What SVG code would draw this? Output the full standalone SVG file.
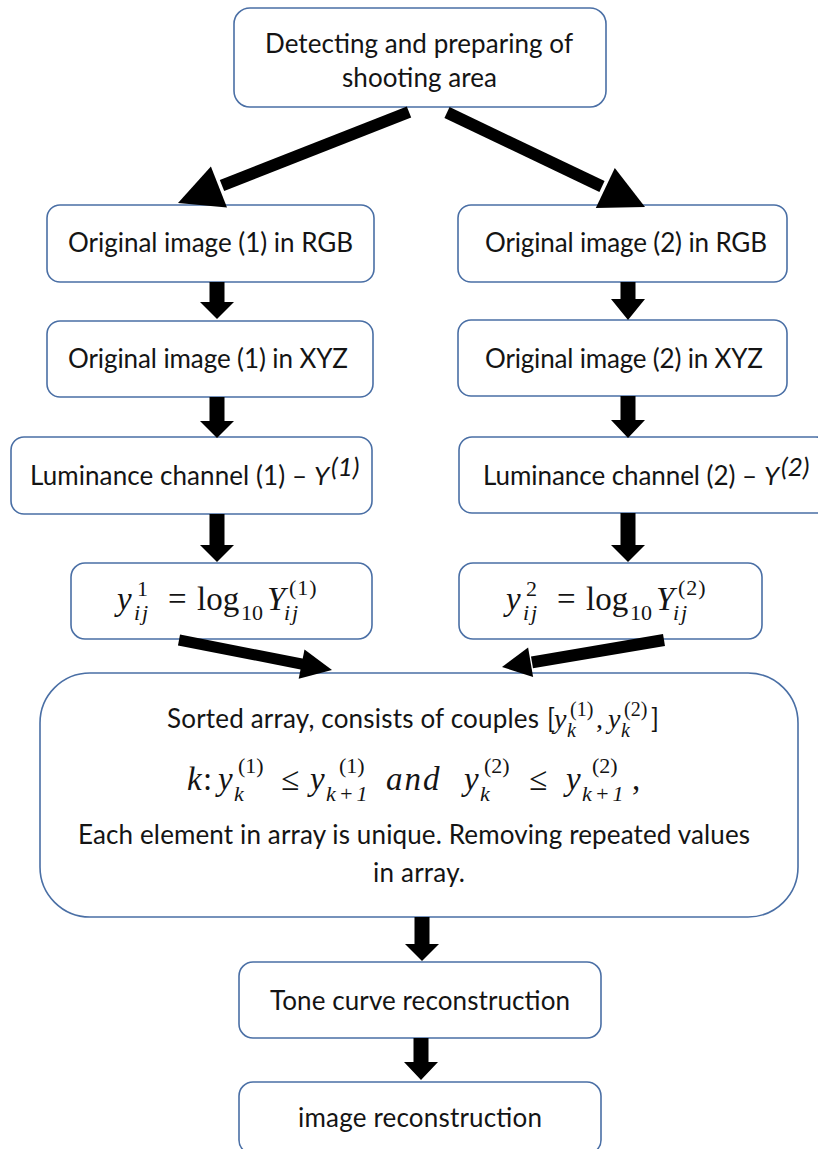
<svg xmlns="http://www.w3.org/2000/svg" width="818" height="1149" viewBox="0 0 818 1149">
<style>
.box{fill:#fff;stroke:#4a6fa5;stroke-width:1.6}
.t{font-family:Lato,"Liberation Sans",sans-serif;font-size:26px;fill:#141414}
.m{font-family:"Liberation Serif",serif;font-size:33px;fill:#141414}
.mi{font-style:italic}
.s{font-size:22px}
.s2{font-size:20px}
.m2{font-size:28px}
.ar{fill:#000}
.sh{stroke:#000;fill:none}
</style>
<rect width="818" height="1149" fill="#fff"/>
<g id="n-top">
<rect class="box" x="234" y="8" width="372" height="99" rx="16"/>
<text class="t" x="265" y="53" textLength="308">Detecting and preparing of</text>
<text class="t" x="342" y="87" textLength="155">shooting area</text>
</g>
<g id="n-rgb1">
<rect class="box" x="47" y="205" width="327" height="77" rx="13"/>
<text class="t" x="68" y="252" textLength="285">Original image (1) in RGB</text>
</g>
<g id="n-rgb2">
<rect class="box" x="458" y="205" width="329" height="77" rx="13"/>
<text class="t" x="485" y="252" textLength="282">Original image (2) in RGB</text>
</g>
<g id="n-xyz1">
<rect class="box" x="47" y="321" width="326" height="76" rx="13"/>
<text class="t" x="68" y="368" textLength="280">Original image (1) in XYZ</text>
</g>
<g id="n-xyz2">
<rect class="box" x="458" y="320" width="329" height="76" rx="13"/>
<text class="t" x="485" y="368" textLength="278">Original image (2) in XYZ</text>
</g>
<g id="n-lum1">
<rect class="box" x="11" y="437" width="361" height="77" rx="13"/>
<text class="t" x="30" y="485" textLength="277">Luminance channel (1) –</text>
<text class="t" x="314" y="485" font-style="italic" font-size="21">Y</text>
<text class="t" x="331" y="476" font-style="italic" font-size="14">(1)</text>
</g>
<g id="n-lum2">
<rect class="box" x="459" y="437" width="370" height="76" rx="13"/>
<text class="t" x="483" y="485" textLength="274">Luminance channel (2) –</text>
<text class="t" x="764" y="485" font-style="italic" font-size="21">Y</text>
<text class="t" x="781" y="476" font-style="italic" font-size="14">(2)</text>
</g>
<g id="n-log1">
<rect class="box" x="71" y="563" width="301" height="76" rx="14"/>
<text class="m mi" x="117" y="610">y</text>
<text class="m s" x="137" y="596">1</text>
<text class="m mi s" x="134" y="620" letter-spacing="2">ij</text>
<text class="m" x="168" y="610">=</text>
<text class="m" x="197" y="610">log</text>
<text class="m s" x="241" y="620">10</text>
<text class="m mi" x="267" y="610">Y</text>
<text class="m s" x="289" y="595" letter-spacing="1">(1)</text>
<text class="m mi s" x="284" y="620" letter-spacing="2">ij</text>
</g>
<g id="n-log2">
<rect class="box" x="459" y="563" width="303" height="76" rx="14"/>
<text class="m mi" x="506" y="610">y</text>
<text class="m s" x="526" y="596">2</text>
<text class="m mi s" x="523" y="620" letter-spacing="2">ij</text>
<text class="m" x="557" y="610">=</text>
<text class="m" x="586" y="610">log</text>
<text class="m s" x="630" y="620">10</text>
<text class="m mi" x="656" y="610">Y</text>
<text class="m s" x="678" y="595" letter-spacing="1">(2)</text>
<text class="m mi s" x="673" y="620" letter-spacing="2">ij</text>
</g>
<g id="n-sorted">
<rect class="box" x="40" y="673" width="758" height="244" rx="50"/>
<text class="t" x="167" y="728" textLength="372">Sorted array, consists of couples</text>
<text class="t" x="547" y="728">[</text>
<text class="m mi m2" x="554" y="728">y</text>
<text class="m mi s2" x="567" y="737">k</text>
<text class="m s2" x="570" y="716">(1)</text>
<text class="m m2" x="596" y="728">,</text>
<text class="m mi m2" x="608" y="728">y</text>
<text class="m mi s2" x="621" y="737">k</text>
<text class="m s2" x="624" y="716">(2)</text>
<text class="t" x="651" y="728">]</text>
<text class="m mi" x="187" y="790">k</text>
<text class="m" x="203" y="790">:</text>
<text class="m mi" x="218" y="790">y</text>
<text class="m mi s" x="234" y="801">k</text>
<text class="m s" x="238" y="773">(1)</text>
<text class="m" x="281" y="790">≤</text>
<text class="m mi" x="310" y="790">y</text>
<text class="m mi s" x="326" y="801" letter-spacing="3">k+1</text>
<text class="m s" x="339" y="773">(1)</text>
<text class="m mi" x="386" y="790" letter-spacing="2">and</text>
<text class="m mi" x="464" y="790">y</text>
<text class="m mi s" x="480" y="801">k</text>
<text class="m s" x="484" y="773">(2)</text>
<text class="m" x="529" y="790">≤</text>
<text class="m mi" x="566" y="790">y</text>
<text class="m mi s" x="582" y="801" letter-spacing="3">k+1</text>
<text class="m s" x="592" y="773">(2)</text>
<text class="m" x="632" y="790">,</text>
<text class="t" x="78" y="844" textLength="672">Each element in array is unique. Removing repeated values</text>
<text class="t" x="373" y="882" textLength="92">in array.</text>
</g>
<g id="n-tone">
<rect class="box" x="239" y="962" width="362" height="76" rx="14"/>
<text class="t" x="270" y="1010" textLength="300">Tone curve reconstruction</text>
</g>
<g id="n-image">
<rect class="box" x="239" y="1082" width="362" height="72" rx="14"/>
<text class="t" x="298" y="1127" textLength="244">image reconstruction</text>
</g>
<g id="connectors">
<line class="sh" x1="409" y1="112" x2="222" y2="185.5" stroke-width="12"/>
<polygon class="ar" points="178,203 227,207.4 210.9,166.4"/>
<line class="sh" x1="447" y1="112.5" x2="602" y2="186.5" stroke-width="12"/>
<polygon class="ar" points="645,207 595.8,207.9 614.8,168.1"/>
<polygon class="ar" points="209.5,282 224.5,282 224.5,302 234,302 217,319 200,302 209.5,302"/>
<polygon class="ar" points="620.5,282 635.5,282 635.5,299 645,299 628,320 611,299 620.5,299"/>
<polygon class="ar" points="209.5,397 224.5,397 224.5,421 234,421 217,438 200,421 209.5,421"/>
<polygon class="ar" points="620.5,396 635.5,396 635.5,420 645,420 628,438 611,420 620.5,420"/>
<polygon class="ar" points="209.5,514 224.5,514 224.5,545 234,545 217,562 200,545 209.5,545"/>
<polygon class="ar" points="620.5,513 635.5,513 635.5,545 645,545 628,562 611,545 620.5,545"/>
<line class="sh" x1="179" y1="640" x2="304" y2="664.5" stroke-width="11"/>
<polygon class="ar" points="332,670 298.7,678.8 304.5,649.4"/>
<line class="sh" x1="664" y1="640" x2="532" y2="662.3" stroke-width="12"/>
<polygon class="ar" points="502,667 533.1,677.1 528.1,647.5"/>
<polygon class="ar" points="414.5,917 429.5,917 429.5,944 439,944 422,961 405,944 414.5,944"/>
<polygon class="ar" points="413.5,1038 428.5,1038 428.5,1062 438,1062 421,1080 404,1062 413.5,1062"/>
</g>
</svg>
